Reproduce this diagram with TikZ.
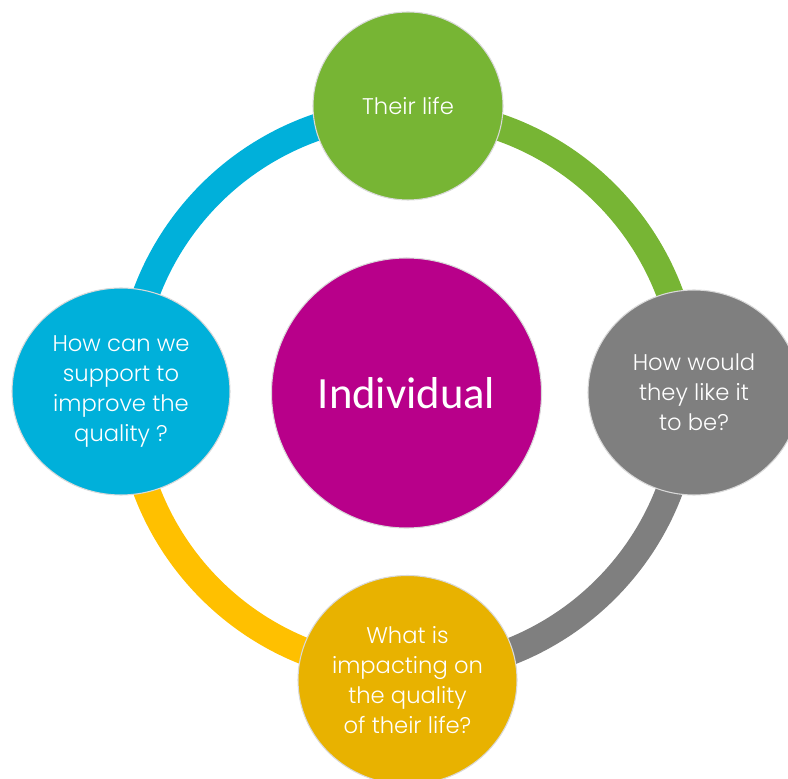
\documentclass[tikz,border=0pt]{standalone}
\usepackage{fontspec}
\setmainfont{Poppins Light}
\newfontfamily\hubfont{Carlito}
\usetikzlibrary{positioning,shapes.geometric}
\definecolor{cycleblue}{HTML}{00B0DA}
\definecolor{cyclegreen}{HTML}{77B534}
\definecolor{cyclegray}{HTML}{7F7F7F}
\definecolor{cycleyellow}{HTML}{FFC000}
\definecolor{cyclegold}{HTML}{E8B200}
\definecolor{cyclemagenta}{HTML}{B8008A}
\newcommand{\px}{0.75pt}

\begin{document}
\begin{tikzpicture}[x=\px, y=\px,
  bubble/.style={ellipse, inner sep=0pt, align=center, text=white,
    draw=black!15, line width=0.8pt, font=\fontsize{17}{22.5}\selectfont}]
  \useasboundingbox (0,0) rectangle (788,778);
  % ring behind the circles
  \coordinate (hub) at (408,386.5);
  \foreach \a/\col in {180/cycleblue,90/cyclegreen,0/cyclegray,270/cycleyellow}{
    \draw[\col, line width=27*\px] ([shift={(\a:279.5)}]hub)
      arc[start angle=\a, delta angle=-90, radius=279.5];
  }
  % centre
  \node[bubble, fill=cyclemagenta, minimum width=270*\px, minimum height=270*\px,
    font=\fontsize{33.5}{36}\hubfont] (individual) at (406.5,385) {Individual};
  % steps
  \node[bubble, fill=cyclegreen, minimum width=190*\px, minimum height=188*\px]
    (life) at (408,672) {Their life};
  \node[bubble, fill=cyclegray, minimum width=212*\px, minimum height=205*\px]
    (wish) at (694,385.5) {How would\\they like it\\to be?};
  \node[bubble, fill=cyclegold, minimum width=219*\px, minimum height=209*\px]
    (impact) at (407.5,98) {What is\\impacting on\\the quality\\of their life?};
  \node[bubble, fill=cycleblue, minimum width=218*\px, minimum height=207*\px]
    (support) at (121,386.5) {How can we\\support to\\improve the\\quality ?};
\end{tikzpicture}
\end{document}
